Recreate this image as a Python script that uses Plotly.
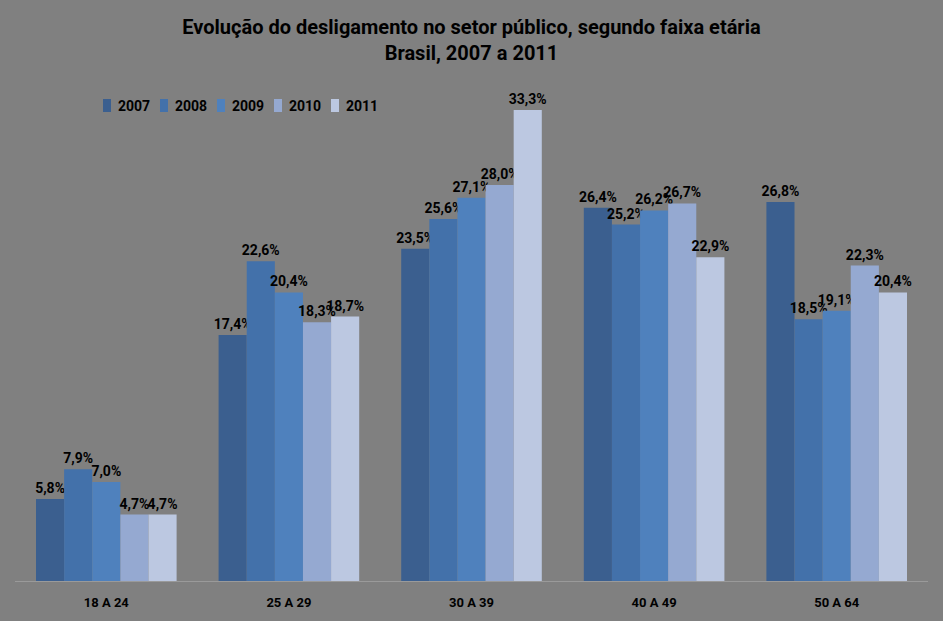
import plotly.graph_objects as go

categories = ["18 A 24", "25 A 29", "30 A 39", "40 A 49", "50 A 64"]
years = ["2007", "2008", "2009", "2010", "2011"]
v2007 = [5.8, 17.4, 23.5, 26.4, 26.8]
v2008 = [7.9, 22.6, 25.6, 25.2, 18.5]
v2009 = [7.0, 20.4, 27.1, 26.2, 19.1]
v2010 = [4.7, 18.3, 28.0, 26.7, 22.3]
v2011 = [4.7, 18.7, 33.3, 22.9, 20.4]
series = [v2007, v2008, v2009, v2010, v2011]
colors = ["#3B5F8F", "#4371AA", "#4F81BD", "#95A9D1", "#BCC8E1"]

FONT = "Roboto, Liberation Sans, sans-serif"
W, H = 943, 621
ML, MR, MT, MB = 15, 15, 86, 40
PW, PH = W - ML - MR, H - MT - MB


def px2x(px):
    return (px - ML) / PW


def py2y(py):
    return (H - MB - py) / PH


fig = go.Figure()
for yr, vals, col in zip(years, series, colors):
    fig.add_trace(go.Bar(
        name=yr, x=categories, y=vals,
        marker=dict(color=col, line=dict(width=0)),
        text=[f"{v:.1f}%".replace(".", ",") for v in vals],
        textposition="outside", constraintext="none", cliponaxis=False,
        textfont=dict(family=FONT, size=14, color="black", weight="bold"),
        showlegend=False,
    ))

# custom legend (small rectangle + label), mimicking the reference
shapes, annotations = [], []
for i, (yr, col) in enumerate(zip(years, colors)):
    x0 = 103 + 57 * i
    shapes.append(dict(type="rect", xref="paper", yref="paper",
                       x0=px2x(x0), x1=px2x(x0 + 8), y0=py2y(112), y1=py2y(99),
                       fillcolor=col, line=dict(width=0), layer="above"))
    annotations.append(dict(xref="paper", yref="paper", x=px2x(x0 + 13), y=py2y(106),
                            xanchor="left", yanchor="middle", showarrow=False,
                            text=f"<b>{yr}</b>",
                            font=dict(family=FONT, size=14, color="black")))

fig.update_layout(
    width=W, height=H,
    paper_bgcolor="#808080", plot_bgcolor="#808080",
    barmode="group", bargap=0.23, bargroupgap=0,
    margin=dict(l=ML, r=MR, t=MT, b=MB),
    showlegend=False,
    title=dict(
        text="<b>Evolução do desligamento no setor público, segundo faixa etária<br>Brasil, 2007 a 2011</b>",
        x=0.5, xanchor="center", y=0.945, yanchor="middle",
        font=dict(family=FONT, size=20, color="black"),
    ),
    xaxis=dict(
        showgrid=False, showline=False, ticks="", ticklabelstandoff=12,
        tickfont=dict(family=FONT, size=13, color="black", weight="bold"),
    ),
    yaxis=dict(
        range=[0, 35], visible=True, showgrid=False, showticklabels=False,
        zeroline=True, zerolinecolor="#9a9a9a", zerolinewidth=1, showline=False,
    ),
    shapes=shapes, annotations=annotations,
)

fig.write_html("out.html", config={"displayModeBar": False},
               post_script="document.body.style.margin='0';document.body.style.background='#808080';")
